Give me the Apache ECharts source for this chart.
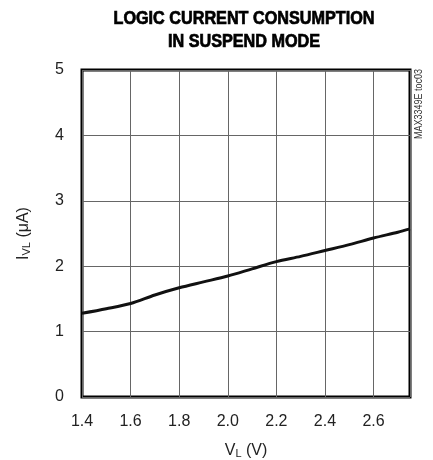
<!DOCTYPE html>
<html>
<head>
<meta charset="utf-8">
<script src="https://cdn.jsdelivr.net/npm/echarts@6/dist/echarts.min.js"></script>
<style>
  html, body { margin: 0; padding: 0; background: #fff; }
  #chart { width: 433px; height: 460px; }
</style>
</head>
<body>
<div id="chart"></div>
<script>
// V_L (V) sample points and logic current (uA)
var vl = [1.4, 1.5, 1.6, 1.7, 1.8, 1.9, 2.0, 2.1, 2.2, 2.3, 2.4, 2.5, 2.6, 2.7, 2.75];
var ivl = [1.28, 1.35, 1.43, 1.56, 1.67, 1.76, 1.85, 1.96, 2.07, 2.15, 2.24, 2.33, 2.43, 2.52, 2.57];

var titleLines = ['LOGIC CURRENT CONSUMPTION', 'IN SUSPEND MODE'];

var fontMain = '"Liberation Sans", Arial, sans-serif';

var points = [];
for (var i = 0; i < vl.length; i++) {
  points.push([vl[i], ivl[i]]);
}

var chart = echarts.init(document.getElementById('chart'));

// title drawn as scaled text to get the condensed look
var titleGraphics = titleLines.map(function (t, k) {
  return {
    type: 'text',
    x: 244,
    y: 19 + k * 23,
    scaleX: 0.9,
    style: {
      text: t,
      fontFamily: fontMain,
      fontWeight: 'bold',
      fontSize: 18,
      fill: '#000',
      stroke: '#000',
      lineWidth: 0.7,
      align: 'center',
      verticalAlign: 'middle'
    }
  };
});

var option = {
  animation: false,
  grid: {
    left: 82,
    right: 23,
    top: 70,
    bottom: 63,
    outerBoundsMode: 'none',
    show: true,
    borderColor: '#000',
    borderWidth: 3
  },
  xAxis: {
    type: 'value',
    min: 1.4,
    max: 2.75,
    interval: 0.2,
    axisLine: { show: false },
    axisTick: { show: false },
    splitLine: { show: true, lineStyle: { color: '#666', width: 1 } },
    axisLabel: {
      margin: 17,
      fontFamily: fontMain,
      fontSize: 16,
      color: '#222',
      showMaxLabel: false,
      formatter: function (v) { return v.toFixed(1); }
    },
    name: 'V{sub|L} (V)',
    nameLocation: 'middle',
    nameGap: 45,
    nameTextStyle: {
      fontFamily: fontMain,
      fontSize: 16,
      color: '#222',
      rich: {
        sub: { fontFamily: fontMain, fontSize: 11, color: '#222', verticalAlign: 'bottom', padding: [6, 0, 0, 0] }
      }
    }
  },
  yAxis: {
    type: 'value',
    min: 0,
    max: 5,
    interval: 1,
    axisLine: { show: false },
    axisTick: { show: false },
    splitLine: { show: true, lineStyle: { color: '#666', width: 1 } },
    axisLabel: {
      margin: 18,
      fontFamily: fontMain,
      fontSize: 16,
      color: '#222'
    },
    name: 'I{sub|VL} (μA)',
    nameLocation: 'middle',
    nameRotate: 90,
    nameGap: 50,
    nameTextStyle: {
      fontFamily: fontMain,
      fontSize: 16,
      color: '#222',
      rich: {
        sub: { fontFamily: fontMain, fontSize: 11, color: '#222', verticalAlign: 'bottom', padding: [6, 0, 0, 0] }
      }
    }
  },
  graphic: titleGraphics.concat([{
    type: 'text',
    x: 419,
    y: 104,
    rotation: Math.PI / 2,
    scaleX: 0.9,
    style: {
      text: 'MAX3349E toc03',
      fontFamily: fontMain,
      fontSize: 10,
      fill: '#333',
      align: 'center',
      verticalAlign: 'middle'
    }
  }]),
  series: [{
    type: 'line',
    data: points,
    smooth: 0.3,
    showSymbol: false,
    lineStyle: { color: '#111', width: 3 }
  }]
};
chart.setOption(option);
</script>
</body>
</html>
